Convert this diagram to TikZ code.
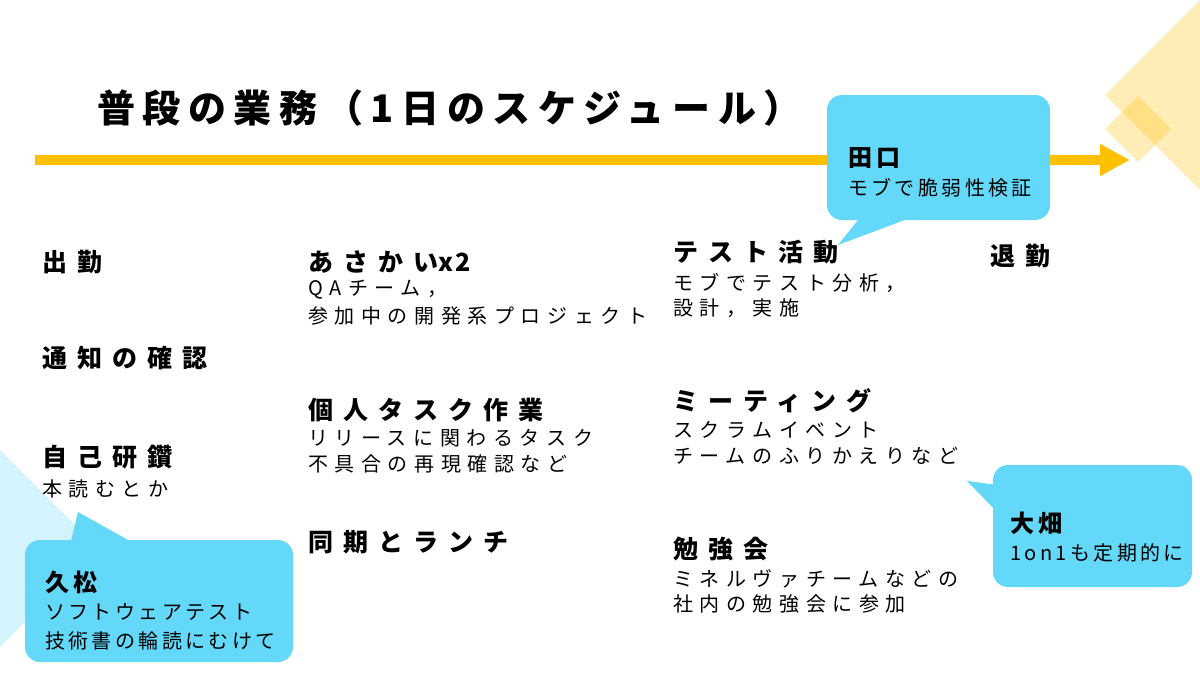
\documentclass[tikz,border=0pt]{standalone}
\usepackage{fontspec}
\usetikzlibrary{arrows.meta}
\newfontfamily\jptitle[LetterSpace=20]{Noto Sans CJK JP}
\newfontfamily\jphead[LetterSpace=40]{Noto Sans CJK JP}
\newfontfamily\jpbody[LetterSpace=33]{Noto Sans CJK JP}
\newfontfamily\jpcall[LetterSpace=17]{Noto Sans CJK JP}
\newfontfamily\jpcname[LetterSpace=20]{Noto Sans CJK JP}
\definecolor{arrowyellow}{RGB}{255,192,0}
\definecolor{calloutblue}{RGB}{100,216,248}
\definecolor{paleblue}{RGB}{212,243,252}
\tikzset{
  titletext/.style={anchor=west, inner sep=0pt, font=\jptitle\bfseries\fontsize{38}{44}\selectfont},
  headtext/.style={anchor=west, inner sep=0pt, font=\jphead\bfseries\fontsize{25}{30}\selectfont},
  bodytext/.style={anchor=west, inner sep=0pt, font=\jpbody\fontsize{20}{24}\selectfont},
  cnametext/.style={anchor=west, inner sep=0pt, font=\jpcname\bfseries\fontsize{24}{28}\selectfont},
  ctext/.style={anchor=west, inner sep=0pt, font=\jpcall\fontsize{20}{24}\selectfont},
  callbox/.style={fill=calloutblue, draw=none, rounded corners=15pt},
  diamond fill/.style={fill=arrowyellow, fill opacity=0.28, draw=none},
}
\begin{document}
\begin{tikzpicture}[x=1pt, y=-1pt]
\useasboundingbox (0,0) rectangle (1200,675);
\fill[white] (0,0) rectangle (1200,675);

% decorations
\fill[diamond fill] (1105,95) -- (1200,0) -- (1295,95) -- (1200,190) -- cycle;
\fill[diamond fill] (1105,129) -- (1138,96) -- (1171,129) -- (1138,162) -- cycle;
\fill[paleblue] (0,450) -- (98,548) -- (0,647) -- cycle;

% timeline arrow
\coordinate (arrowstart) at (35,160);
\coordinate (arrowend) at (1130,160);
\draw[arrowyellow, line width=10pt, -{Triangle[length=30pt, width=30pt]}] (arrowstart) -- (arrowend);

% title
\node[titletext] (title) at (97,108) {普段の業務（1日のスケジュール）};

% column 1
\node[headtext] (shukkin) at (42,262) {出勤};
\node[headtext] (tsuchi) at (42,358) {通知の確認};
\node[headtext] (jiko) at (42,457) {自己研鑽};
\node[bodytext] (jikob) at (42,489) {本読むとか};

% column 2
\node[headtext] (asakai) at (308,262) {あさかい{\addfontfeature{LetterSpace=8}x2}};
\node[bodytext] (asakaia) at (308,290) {QAチーム，};
\node[bodytext] (asakaib) at (308,316) {参加中の開発系プロジェクト};
\node[headtext] (kojin) at (308,410) {個人タスク作業};
\node[bodytext] (kojina) at (308,438) {リリースに関わるタスク};
\node[bodytext] (kojinb) at (308,464) {不具合の再現確認など};
\node[headtext] (doki) at (308,542) {同期とランチ};

% column 3
\node[headtext] (test) at (673,252) {テスト活動};
\node[bodytext] (testa) at (673,283) {モブでテスト分析，};
\node[bodytext] (testb) at (673,308) {設計，実施};
\node[headtext] (mtg) at (673,401) {ミーティング};
\node[bodytext] (mtga) at (673,430) {スクラムイベント};
\node[bodytext] (mtgb) at (673,456) {チームのふりかえりなど};
\node[headtext] (benkyo) at (673,549) {勉強会};
\node[bodytext] (benkyoa) at (673,579) {ミネルヴァチームなどの};
\node[bodytext] (benkyob) at (673,604) {社内の勉強会に参加};

% column 4
\node[headtext] (taikin) at (990,256) {退勤};

% callout: 田口
\coordinate (tgtip) at (838,245);
\fill[calloutblue] (862,215) -- (tgtip) -- (918,215) -- cycle;
\path[callbox] (827,95) rectangle (1050,220);
\node[cnametext] (tgname) at (848,158) {田口};
\node[ctext] (tgtext) at (848,188) {モブで脆弱性検証};

% callout: 大畑
\coordinate (ohtip) at (967,481);
\fill[calloutblue] (998,485) -- (ohtip) -- (998,513) -- cycle;
\path[callbox] (993,465) rectangle (1192,587);
\node[cnametext] (ohname) at (1010,523) {大畑};
\node[ctext] (ohtext) at (1010,553) {1on1も定期的に};

% callout: 久松
\coordinate (hmtip) at (78,512);
\fill[calloutblue] (70,545) -- (hmtip) -- (137,545) -- cycle;
\path[callbox] (25,540) rectangle (293,662);
\node[cnametext] (hmname) at (45,582) {久松};
\node[ctext] (hmtexta) at (45,612) {ソフトウェアテスト};
\node[ctext] (hmtextb) at (45,641) {技術書の輪読にむけて};
\end{tikzpicture}
\end{document}
